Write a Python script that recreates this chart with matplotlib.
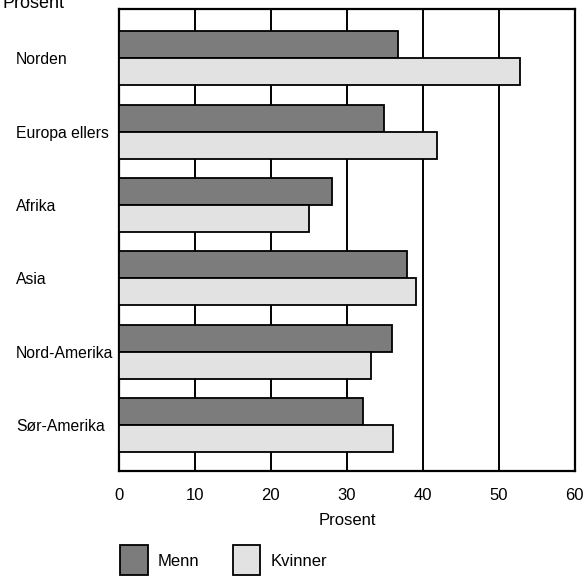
import matplotlib.pyplot as plt
import numpy as np

plt.rcParams['font.family'] = ['Liberation Sans Narrow', 'Liberation Sans', 'DejaVu Sans']

# data
regions = ['Norden', 'Europa ellers', 'Afrika', 'Asia', 'Nord-Amerika', 'Sør-Amerika']
menn = [36.7, 34.9, 28.0, 37.9, 35.9, 32.1]
kvinner = [52.8, 41.9, 25.0, 39.1, 33.2, 36.1]
x_ticks = [0, 10, 20, 30, 40, 50, 60]

fig = plt.figure(figsize=(5.86, 5.76), dpi=100)
ax = fig.add_axes([0.203, 0.182, 0.778, 0.802])

y = np.arange(len(regions))
h = 0.37
ax.barh(y - h / 2, menn, height=h, color='#7c7c7c', edgecolor='black', linewidth=1.3,
        label='Menn', zorder=3)
ax.barh(y + h / 2, kvinner, height=h, color='#e2e2e2', edgecolor='black', linewidth=1.3,
        label='Kvinner', zorder=3)

ax.set_xlim(0, 60)
ax.set_ylim(5.63, -0.67)
ax.set_xticks(x_ticks)
ax.set_xticklabels([str(t) for t in x_ticks], fontsize=12)
ax.set_yticks(y)
ax.set_yticklabels(regions, fontsize=11.3)
ax.tick_params(axis='x', length=0, pad=12)
ax.tick_params(axis='y', length=0, pad=10)
for lbl in ax.get_yticklabels():
    lbl.set_horizontalalignment('left')
    lbl.set_x(-0.195)
ax.xaxis.grid(True, color='black', linewidth=1.4, zorder=1)
ax.set_axisbelow(True)
for s in ax.spines.values():
    s.set_linewidth(1.6)
ax.set_xlabel('Prosent', fontsize=12, labelpad=7)

# axis unit label, partly cut at the top edge as in the original
fig.text(0.005, 1 - 8 / 576, 'Prosent', fontsize=13, va='baseline', ha='left')

fig.legend(loc='upper left', bbox_to_anchor=(112 / 586, 1 - 537 / 576), ncol=2,
           frameon=False, fontsize=12, borderpad=0, handlelength=1.65, handleheight=2.4,
           columnspacing=2.0, handletextpad=0.6)

fig.savefig('out.png', dpi=100)
